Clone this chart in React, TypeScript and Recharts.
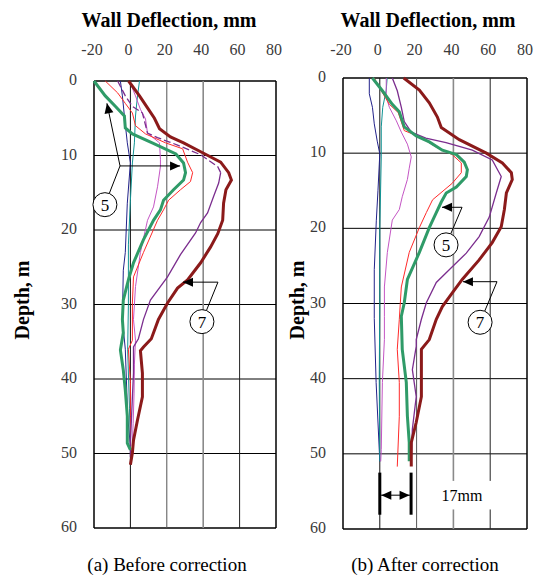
import React from "react";
import { ScatterChart, Scatter, XAxis, YAxis, ReferenceLine } from "recharts";

// [deflection mm, depth m]
type Pt = [number, number];

const deflTicks = [-20, 0, 20, 40, 60, 80];
const depthTicks = [0, 10, 20, 30, 40, 50, 60];

// (a) before correction
const beforeDarkRed: Pt[] = [
  [-1, 0], [5, 2], [9.4, 3.6], [13.2, 5], [16, 6.4], [22, 7.5], [29.2, 8.3], [40.2, 9.7],
  [49.6, 10.9], [54, 12.3], [55.5, 13.3], [52.5, 14.6], [51.2, 16.4], [50.7, 18.7], [48, 20.5],
  [44, 22.3], [38.6, 24.4], [31.4, 26.7], [25.9, 27.8], [20.4, 29.8], [15.4, 32], [11.5, 34.6],
  [7.2, 35.7], [5.5, 36.2], [6.6, 39.2], [6.6, 42.4], [3.9, 45.5], [1.7, 48.2], [1.1, 49.9], [0, 51.5],
];
const beforePurpleTop: Pt[] = [
  [-7, 0], [-2.8, 2], [1.1, 3.4], [6.6, 4.3], [9.4, 7], [14.9, 7.6], [21.5, 8.2], [25.9, 8.6],
  [38.6, 9.9], [48, 11.5], [49.6, 12.3],
];
const beforePurple: Pt[] = [
  [49.6, 12.3], [48.5, 13.7], [45.7, 15.5], [42.4, 17.7], [38.6, 19], [35.8, 20.4], [27.5, 23.3],
  [20.4, 26.3], [11, 29.4], [7.2, 32], [4.4, 34.6], [1.7, 35.7], [1.7, 39.2], [1.1, 42.4],
  [0, 48.6], [0, 50.5],
];
const beforeMagenta: Pt[] = [
  [-0.5, 0], [2.8, 2], [5.5, 3.8], [8.3, 5.1], [9.4, 7], [16, 8.3], [16.5, 10.5], [16.5, 11.5],
  [14.9, 14.2], [12.7, 16.9], [9.4, 18.7], [5.5, 23], [2.8, 27.6], [1.7, 32], [2.8, 34.8],
  [2.2, 38], [2, 42], [1.5, 46], [1, 49],
];
const beforeRed: Pt[] = [
  [-13.8, 0], [-7, 1.6], [-2.8, 3], [1.1, 4.3], [2.8, 6], [8.3, 7.1], [19.3, 8.3], [28.7, 9.1],
  [31.4, 10.9], [34.2, 12.3], [33, 13.5], [27.5, 14.6], [21, 16], [18.2, 17.3], [14.9, 18.7],
  [7.2, 23], [1.7, 26.3], [1.1, 29.8], [1.1, 34.8], [-1.1, 36], [0, 40.5], [0, 45], [0, 48.5],
];
const beforeGreen: Pt[] = [
  [-20, 0], [-13.8, 2], [-8.3, 3.4], [-3.3, 4.7], [-2.8, 6.3], [1.1, 7.1], [12, 8.3], [25, 9.8],
  [29.2, 11], [30.3, 12.3], [29.2, 13.3], [23.7, 14.6], [18.2, 16], [16.5, 17.3], [12.7, 18.7],
  [7.2, 21.3], [1.7, 24.4], [-1.1, 26.7], [-3.9, 29.4], [-4.4, 32], [-3.9, 33.8], [-5.5, 36.1],
  [-3.9, 38.8], [-2.8, 41.5], [-1.7, 45], [-1.7, 48.6], [0, 49.5],
];
const beforeNavy: Pt[] = [
  [-5.5, 0], [-4.4, 2], [-3.3, 4.7], [-1.7, 8.3], [0, 11], [-1.7, 16.4], [-2.8, 23], [-3.9, 25.4],
  [-4.4, 32], [-2.8, 36], [-1.5, 45], [0, 49],
];
const beforeTeal: Pt[] = [
  [5, 0], [3.9, 2], [2.8, 4.7], [2.2, 8.3], [1.1, 11], [0, 16], [-1.1, 22], [-1.1, 30],
  [-1.5, 36], [-0.5, 44], [0, 49],
];

// (b) after correction
const afterDarkRed: Pt[] = [
  [13, 0], [21.5, 1.6], [26.9, 3.3], [31.3, 5.2], [33.4, 6.6], [43.2, 8.2], [57.9, 10],
  [66.6, 11.3], [71.5, 12.6], [72, 13.5], [68.8, 15.3], [67.7, 17.5], [66, 19.8], [61.1, 21.9],
  [54, 24.2], [44.8, 26.8], [39.4, 28.6], [34, 30.4], [30.7, 32.1], [26.9, 34.8], [22.6, 36.1],
  [22.6, 39.7], [22.6, 42.4], [19.8, 45.8], [17.1, 48.5], [17.1, 51.7],
];
const afterPurple: Pt[] = [
  [6.8, 0], [9.5, 1.7], [11.7, 3.9], [13.3, 5.8], [17.1, 7.2], [25, 8], [36, 8.6], [50.3, 9.6],
  [61.1, 10.9], [66, 13.1], [63.3, 15.3], [59.5, 18.5], [54, 21.1], [47, 23.3], [39.4, 25.1],
  [30.7, 27.2], [25.3, 29.9], [22.6, 32.1], [19.8, 34.8], [19.8, 35.7], [17.7, 38.8],
  [19.8, 42.4], [17.7, 46.7], [17.1, 51],
];
const afterMagenta: Pt[] = [
  [3.5, 0], [3.5, 2.5], [5.2, 3.9], [9, 5.7], [11.7, 7.2], [15, 8.8], [17.1, 10.5], [16, 12],
  [15, 13.5], [12.2, 15.8], [10.6, 17.5], [6.8, 18.9], [4.1, 23.2], [2.5, 27.8], [2.5, 31.7],
  [2.5, 34.8], [1.4, 40.5], [0.8, 49.4], [0.5, 51],
];
const afterRed: Pt[] = [
  [-3, 0], [0.8, 1.7], [5.2, 3.5], [10, 4.6], [13.3, 7], [21.5, 7.8], [30.7, 9.2], [39.4, 10.2],
  [44.3, 11.3], [44.3, 12.6], [39.4, 14], [28.7, 16.2], [25.3, 17.9], [21.5, 19.9], [16, 23.2],
  [11.7, 27.8], [10.6, 32.1], [9.5, 36.1], [10.6, 40.5], [10.6, 45], [9.5, 51.7],
];
const afterGreen: Pt[] = [
  [-4, 0], [1.4, 1.7], [6.8, 3.5], [10.6, 4.5], [13.3, 6.5], [19.8, 7.7], [26.9, 8.5], [34, 9.6],
  [41.6, 10.2], [45.9, 11.2], [47.6, 12.2], [47, 13.1], [41.6, 14.5], [36.1, 15.3], [33.4, 16.5],
  [30.7, 17.9], [26.9, 19.9], [21.5, 23.2], [15, 26.8], [13.3, 29.9], [11.7, 31.7], [12.2, 36.1],
  [14.4, 40.5], [15, 45], [16, 48.5], [16, 51],
];
const afterNavy: Pt[] = [
  [-5.7, 0], [-5.7, 2.1], [-4, 3.9], [-3, 6.1], [-1.4, 8.4], [0, 10.1], [-1, 15], [-1.9, 19],
  [-3, 25.5], [-3, 32], [-2, 40.5], [0, 51],
];
const afterTeal: Pt[] = [
  [4, 0], [3.5, 1.6], [1.6, 3.9], [0.8, 6.5], [0.8, 10.5], [0, 20], [0, 30], [-0.3, 40], [0, 51],
];

const FONT = "'Liberation Serif', 'Times New Roman', serif";
const C = {
  darkRed: "#8b1a1a",
  purple: "#7b2d8e",
  magenta: "#c455c4",
  red: "#ff2a2a",
  green: "#2f9b68",
  navy: "#22228a",
  teal: "#119494",
};

type Series = { pts: Pt[]; color: string; width: number; dash?: string };

const beforeSeries: Series[] = [
  { pts: beforeNavy, color: C.navy, width: 1 },
  { pts: beforeTeal, color: C.teal, width: 1 },
  { pts: beforeMagenta, color: C.magenta, width: 1 },
  { pts: beforeRed, color: C.red, width: 1 },
  { pts: beforePurpleTop, color: C.purple, width: 1.3, dash: "7 3" },
  { pts: beforePurple, color: C.purple, width: 1.3 },
  { pts: beforeGreen, color: C.green, width: 3 },
  { pts: beforeDarkRed, color: C.darkRed, width: 3 },
];
const afterSeries: Series[] = [
  { pts: afterNavy, color: C.navy, width: 1 },
  { pts: afterTeal, color: C.teal, width: 1 },
  { pts: afterMagenta, color: C.magenta, width: 1 },
  { pts: afterRed, color: C.red, width: 1 },
  { pts: afterPurple, color: C.purple, width: 1.3 },
  { pts: afterGreen, color: C.green, width: 3 },
  { pts: afterDarkRed, color: C.darkRed, width: 3 },
];

type Box = { left: number; right: number; top: number; bottom: number };
const BOX_A: Box = { left: 94, right: 276, top: 81, bottom: 528 };
const BOX_B: Box = { left: 343, right: 527, top: 78, bottom: 529 };
const AXIS_H = 30;
const AXIS_W = 40;

const vGrid: Record<number, { stroke: string; w: number }> = {
  [-20]: { stroke: "#000", w: 1.5 },
  0: { stroke: "#111", w: 1 },
  20: { stroke: "#555", w: 1 },
  40: { stroke: "#8a8a8a", w: 1.6 },
  60: { stroke: "#222", w: 1 },
  80: { stroke: "#000", w: 1.5 },
};

const TopTick = (p: any) => (
  <text x={p.x - 2} y={p.y} textAnchor="middle" fontFamily={FONT} fontSize={16} fill="#3a3a3a">
    {p.payload.value}
  </text>
);
const LeftTick = (p: any) => (
  <text x={p.x} y={p.y + 4} textAnchor="end" fontFamily={FONT} fontSize={16} fill="#3a3a3a">
    {p.payload.value}
  </text>
);

function Panel({ offset, width, box, series, xMargin }: { offset: number; width: number; box: Box; series: Series[]; xMargin: number }) {
  const margin = {
    top: box.top - AXIS_H,
    left: box.left - offset - AXIS_W,
    right: offset + width - box.right,
    bottom: 576 - box.bottom,
  };
  return (
    <div style={{ position: "absolute", left: offset, top: 0 }}>
      <ScatterChart width={width} height={576} margin={margin}>
        <XAxis
          type="number"
          dataKey="x"
          orientation="top"
          domain={[-20, 80]}
          ticks={deflTicks}
          interval={0}
          height={AXIS_H}
          axisLine={false}
          tickLine={false}
          tickSize={0}
          tickMargin={xMargin}
          tick={TopTick}
        />
        <YAxis
          type="number"
          dataKey="d"
          domain={[0, 60]}
          reversed
          ticks={depthTicks}
          interval={0}
          width={AXIS_W}
          axisLine={false}
          tickLine={false}
          tickSize={0}
          tickMargin={17}
          tick={LeftTick}
        />
        {depthTicks.map((d) => (
          <ReferenceLine key={"h" + d} y={d} stroke="#000" strokeWidth={d === 0 || d === 60 ? 1.5 : 1} />
        ))}
        {deflTicks.map((v) => (
          <ReferenceLine key={"v" + v} x={v} stroke={vGrid[v].stroke} strokeWidth={vGrid[v].w} />
        ))}
        {series.map((s, i) => (
          <Scatter
            key={i}
            data={s.pts.map(([x, d]) => ({ x, d }))}
            fill={s.color}
            line={{ stroke: s.color, strokeWidth: s.width, strokeDasharray: s.dash }}
            lineJointType="linear"
            shape={() => <g />}
            isAnimationActive={false}
          />
        ))}
      </ScatterChart>
    </div>
  );
}

// annotation helpers (data units -> page px, same scale as the panels)
const mapper = (box: Box) => ({
  x: (v: number) => box.left + ((v + 20) / 100) * (box.right - box.left),
  y: (d: number) => box.top + (d / 60) * (box.bottom - box.top),
});

function Head({ x1, y1, x2, y2 }: { x1: number; y1: number; x2: number; y2: number }) {
  const a = Math.atan2(y2 - y1, x2 - x1);
  const L = 10;
  const W = 4.5;
  const bx = x2 - L * Math.cos(a);
  const by = y2 - L * Math.sin(a);
  const px = -Math.sin(a) * W;
  const py = Math.cos(a) * W;
  return <polygon points={`${x2},${y2} ${bx + px},${by + py} ${bx - px},${by - py}`} fill="#000" />;
}

function Callout({ box, label, circle, hub, tips }: { box: Box; label: string; circle: Pt; hub: Pt; tips: Pt[] }) {
  const m = mapper(box);
  const cx = m.x(circle[0]);
  const cy = m.y(circle[1]);
  const hx = m.x(hub[0]);
  const hy = m.y(hub[1]);
  const r = 12;
  const a = Math.atan2(hy - cy, hx - cx);
  return (
    <g>
      {tips.map((t, i) => {
        const tx = m.x(t[0]);
        const ty = m.y(t[1]);
        return (
          <g key={i}>
            <line x1={hx} y1={hy} x2={tx} y2={ty} stroke="#000" strokeWidth={1} />
            <Head x1={hx} y1={hy} x2={tx} y2={ty} />
          </g>
        );
      })}
      <line x1={hx} y1={hy} x2={cx + r * Math.cos(a)} y2={cy + r * Math.sin(a)} stroke="#000" strokeWidth={1} />
      <circle cx={cx} cy={cy} r={r} fill="#fff" stroke="#000" strokeWidth={1} />
      <text x={cx} y={cy + 6} textAnchor="middle" fontFamily={FONT} fontSize={17} fill="#000">
        {label}
      </text>
    </g>
  );
}

function Overlay() {
  const mb = mapper(BOX_B);
  const x0 = mb.x(0);
  const x17 = mb.x(17);
  const yTop = mb.y(52.5);
  const yBot = mb.y(58.1);
  const yArr = mb.y(55.5);
  return (
    <svg width={541} height={576} style={{ position: "absolute", left: 0, top: 0, pointerEvents: "none" }}>
      <text x={169} y={27} textAnchor="middle" fontFamily={FONT} fontSize={20} fontWeight="bold">
        Wall Deflection, mm
      </text>
      <text x={428} y={27} textAnchor="middle" fontFamily={FONT} fontSize={20} fontWeight="bold">
        Wall Deflection, mm
      </text>
      <text transform="translate(29,300) rotate(-90)" textAnchor="middle" fontFamily={FONT} fontSize={20} fontWeight="bold">
        Depth, m
      </text>
      <text transform="translate(304,300) rotate(-90)" textAnchor="middle" fontFamily={FONT} fontSize={20} fontWeight="bold">
        Depth, m
      </text>
      <text x={167} y={571} textAnchor="middle" fontFamily={FONT} fontSize={19}>
        (a) Before correction
      </text>
      <text x={425} y={571} textAnchor="middle" fontFamily={FONT} fontSize={19}>
        (b) After correction
      </text>

      <Callout box={BOX_A} label="5" circle={[-14, 16.6]} hub={[-5.7, 11.4]} tips={[[-12.9, 3.0], [27.3, 11.4]]} />
      <Callout box={BOX_A} label="7" circle={[39.3, 32.3]} hub={[48.1, 27]} tips={[[28.9, 27]]} />
      <Callout box={BOX_B} label="5" circle={[36, 22.2]} hub={[44.7, 17.2]} tips={[[33.8, 17.2]]} />
      <Callout box={BOX_B} label="7" circle={[54.5, 32.5]} hub={[63.7, 27.1]} tips={[[45.2, 27.1]]} />

      <line x1={x0} y1={yTop} x2={x0} y2={yBot} stroke="#000" strokeWidth={3} />
      <line x1={x17} y1={yTop} x2={x17} y2={yBot} stroke="#000" strokeWidth={3} />
      <line x1={x0} y1={yArr} x2={x17} y2={yArr} stroke="#000" strokeWidth={1} />
      <Head x1={x17} y1={yArr} x2={x0 + 1.5} y2={yArr} />
      <Head x1={x0} y1={yArr} x2={x17 - 1.5} y2={yArr} />
      <rect x={mb.x(30)} y={mb.y(53.6)} width={mb.x(64) - mb.x(30)} height={mb.y(57.4) - mb.y(53.6)} fill="#fff" />
      <text x={mb.x(44.7)} y={yArr + 6} textAnchor="middle" fontFamily={FONT} fontSize={16}>
        17mm
      </text>
    </svg>
  );
}

export default function App() {
  return (
    <div style={{ position: "absolute", left: 0, top: 0, width: 541, height: 576, background: "#fff" }}>
      <Panel offset={0} width={290} box={BOX_A} series={beforeSeries} xMargin={26} />
      <Panel offset={270} width={271} box={BOX_B} series={afterSeries} xMargin={23} />
      <Overlay />
    </div>
  );
}
